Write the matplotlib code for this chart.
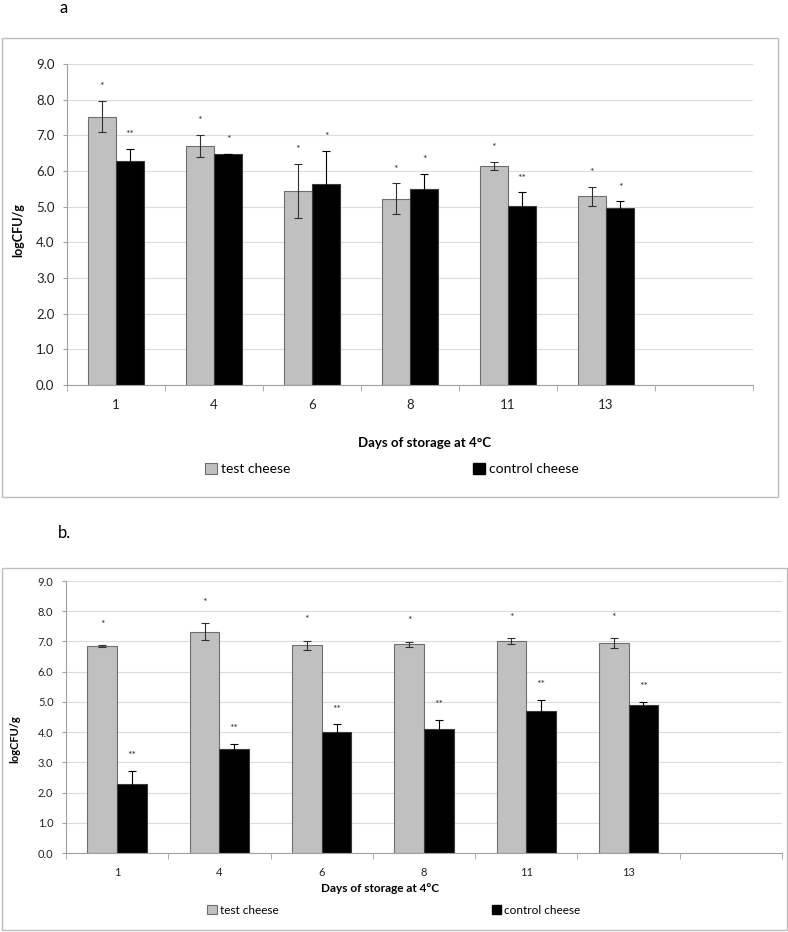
import numpy as np
import matplotlib.pyplot as plt
from matplotlib.patches import Rectangle, Patch

plt.rcParams['font.family'] = ['Lato', 'DejaVu Sans']

days = ['1', '4', '6', '8', '11', '13']

# panel a
a_test = [7.52, 6.70, 5.44, 5.22, 6.15, 5.29]
a_test_err = [0.44, 0.31, 0.75, 0.43, 0.11, 0.27]
a_ctrl = [6.29, 6.48, 5.64, 5.50, 5.03, 4.96]
a_ctrl_err = [0.33, 0.0, 0.92, 0.42, 0.37, 0.19]
a_test_sig = ['*', '*', '*', '*', '*', '*']
a_ctrl_sig = ['**', '*', '*', '*', '**', '*']

# panel b
b_test = [6.85, 7.32, 6.88, 6.91, 7.01, 6.94]
b_test_err = [0.02, 0.28, 0.15, 0.08, 0.09, 0.16]
b_ctrl = [2.29, 3.45, 4.00, 4.10, 4.70, 4.91]
b_ctrl_err = [0.43, 0.17, 0.26, 0.30, 0.37, 0.10]
b_test_sig = ['*', '*', '*', '*', '*', '*']
b_ctrl_sig = ['**', '**', '**', '**', '**', '**']

W, H = 788, 932
fig = plt.figure(figsize=(W / 100, H / 100), dpi=100)


def fx(px):
    return px / W


def fy(py):
    return 1 - py / H


def panel(rect, test, test_err, ctrl, ctrl_err, tsig, csig, tfs, toff, coff):
    ax = fig.add_axes(rect)
    x = np.arange(len(test))
    w = 0.29
    ax.bar(x - w / 2, test, w, color='#c0c0c0', edgecolor='#6e6e6e', linewidth=0.8, zorder=2)
    ax.bar(x + w / 2, ctrl, w, color='black', edgecolor='#3a3a3a', linewidth=0.8, zorder=2)
    ax.errorbar(x - w / 2, test, yerr=test_err, fmt='none', ecolor='#303030',
                elinewidth=0.8, capsize=3, capthick=0.8, zorder=3)
    ax.errorbar(x + w / 2, ctrl, yerr=ctrl_err, fmt='none', ecolor='black',
                elinewidth=0.8, capsize=3, capthick=0.8, zorder=3)
    for i in range(len(test)):
        ax.text(x[i] - w / 2, test[i] + test_err[i] + toff, tsig[i],
                ha='center', va='center', fontsize=7.5, color='#333333')
        ax.text(x[i] + w / 2, ctrl[i] + ctrl_err[i] + coff, csig[i],
                ha='center', va='center', fontsize=7.5, color='#333333')
    ax.set_xlim(-0.5, 6.5)
    ax.set_ylim(0, 9)
    ax.set_yticks(np.arange(0, 9.1, 1.0))
    ax.set_yticklabels(['%.1f' % v for v in np.arange(0, 9.1, 1.0)], fontsize=tfs, color='#222222')
    ax.set_xticks(x)
    ax.set_xticklabels(days, fontsize=tfs, color='#222222')
    ax.set_xticks(np.arange(-0.5, 7, 1.0), minor=True)
    ax.tick_params(axis='x', which='major', length=0, pad=10)
    ax.tick_params(axis='x', which='minor', length=4, color='#a0a0a0', direction='out')
    ax.tick_params(axis='y', length=3, color='#a0a0a0', pad=6)
    ax.grid(axis='y', color='#dcdcdc', linewidth=0.8, zorder=0)
    ax.set_axisbelow(True)
    for s in ['top', 'right']:
        ax.spines[s].set_visible(False)
    ax.spines['left'].set_color('#a0a0a0')
    ax.spines['bottom'].set_color('#a0a0a0')
    return ax


# panel a
fig.patches.append(Rectangle((fx(2), fy(497)), fx(776), 459 / H, transform=fig.transFigure,
                             fill=False, edgecolor='#bdbdbd', linewidth=1))
ax1 = panel([fx(67), fy(385), fx(686), 321 / H], a_test, a_test_err, a_ctrl, a_ctrl_err,
            a_test_sig, a_ctrl_sig, 9.5, 0.4, 0.4)
fig.text(fx(18), fy(230), 'logCFU/g', rotation=90, ha='center', va='center',
         fontsize=9, fontweight='bold')
fig.text(fx(425), fy(443), 'Days of storage at 4°C', ha='center', va='center',
         fontsize=9.5, fontweight='bold')
fig.text(fx(64), fy(8), 'a', ha='center', va='center', fontsize=12)
h_test = Patch(facecolor='#c0c0c0', edgecolor='#6e6e6e', linewidth=0.8)
h_ctrl = Patch(facecolor='black', edgecolor='black')
fig.legend([h_test, h_ctrl], ['test cheese', 'control cheese'], ncol=2, loc='center',
           bbox_to_anchor=(fx(392), fy(469)), frameon=False, fontsize=10,
           handlelength=0.8, handleheight=0.8, handletextpad=0.3, columnspacing=13.2)

# panel b
fig.patches.append(Rectangle((fx(2), fy(930)), fx(785), 362 / H, transform=fig.transFigure,
                             fill=False, edgecolor='#bdbdbd', linewidth=1))
ax2 = panel([fx(66), fy(853), fx(716), 272 / H], b_test, b_test_err, b_ctrl, b_ctrl_err,
            b_test_sig, b_ctrl_sig, 8, 0.7, 0.5)
fig.text(fx(15), fy(739), 'logCFU/g', rotation=90, ha='center', va='center',
         fontsize=8, fontweight='bold')
fig.text(fx(380), fy(888), 'Days of storage at 4°C', ha='center', va='center',
         fontsize=8.5, fontweight='bold')
fig.text(fx(64), fy(533), 'b.', ha='center', va='center', fontsize=12)
fig.legend([h_test, h_ctrl], ['test cheese', 'control cheese'], ncol=2, loc='center',
           bbox_to_anchor=(fx(394), fy(910)), frameon=False, fontsize=8.5,
           handlelength=0.8, handleheight=0.8, handletextpad=0.3, columnspacing=18)

fig.savefig('out.png', dpi=100)
